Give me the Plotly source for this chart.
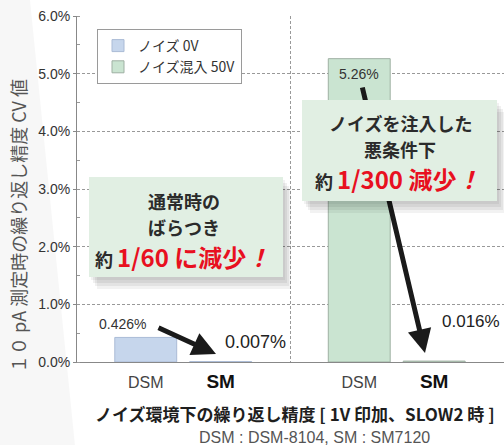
import plotly.graph_objects as go

# ---------------- data ----------------
groups = ["ノイズ 0V", "ノイズ混入 50V"]
models = ["DSM", "SM"]
cv_noise0 = [0.426, 0.007]      # %
cv_noise50 = [5.26, 0.016]      # %
label_noise0 = ["0.426%", "0.007%"]
label_noise50 = ["5.26%", "0.016%"]
y_ticks = [0, 1, 2, 3, 4, 5, 6]

# ---------------- layout constants ----------------
W, H = 504, 445
L, R, T, B = 77, 504, 16, 362          # plot area in pixels
XMAX, YMAX = 2.0, 6.0
OFFS = [0.322, 0.673]                  # bar centre offsets within a group
BW = 0.29

JP = "Noto Sans CJK JP"
LAT = "Liberation Sans, Arial, sans-serif"


def px2x(px):
    return (px - L) / (R - L) * XMAX


def py2y(py):
    return (B - py) / (B - T) * YMAX


def pxp(px):
    return (px - L) / (R - L)


def pyp(py):
    return (B - py) / (B - T)


x0 = [0 + o for o in OFFS]
x1 = [1 + o for o in OFFS]

fig = go.Figure()
fig.add_trace(go.Bar(
    x=x0, y=cv_noise0, width=BW, name=groups[0],
    marker=dict(color="#c6d6ec", line=dict(color="#aabbd6", width=1)),
    hoverinfo="skip"))
fig.add_trace(go.Bar(
    x=x1, y=cv_noise50, width=BW, name=groups[1],
    marker=dict(color="#cae4d1", line=dict(color="#9fb0a3", width=1)),
    hoverinfo="skip"))

ann = []

# value labels
ann.append(dict(x=x0[0], y=cv_noise0[0], xref="x", yref="y", text=label_noise0[0],
                showarrow=False, xshift=-23, yshift=3, yanchor="bottom",
                font=dict(family=LAT, size=14, color="#333")))
ann.append(dict(x=x0[1], y=cv_noise0[1], xref="x", yref="y", text=label_noise0[1],
                showarrow=False, xshift=35, yshift=20, yanchor="middle",
                font=dict(family=LAT, size=18, color="#222")))
ann.append(dict(x=x1[0], y=cv_noise50[0], xref="x", yref="y", text=label_noise50[0],
                showarrow=False, yshift=-5, yanchor="top",
                font=dict(family=LAT, size=14, color="#333")))
ann.append(dict(x=x1[1], y=cv_noise50[1], xref="x", yref="y", text=label_noise50[1],
                showarrow=False, xshift=37, yshift=40, yanchor="middle",
                font=dict(family=LAT, size=17, color="#222")))


# arrows (drawn first so boxes sit on top)
def arrow(tail, tip):
    return dict(x=px2x(tip[0]), y=py2y(tip[1]), xref="x", yref="y",
                ax=tail[0] - tip[0], ay=tail[1] - tip[1], axref="pixel", ayref="pixel",
                text="", showarrow=True, arrowhead=2, arrowsize=0.95,
                arrowwidth=5, arrowcolor="#1a1a1a", standoff=0, startstandoff=0)


ann.append(arrow((157, 327), (216, 354)))
ann.append(arrow((362, 86), (425, 353)))


# callout boxes with soft shadow
def box(x_left, y_top, w, h):
    out = []
    for dx, dy, a in [(2, 3, 0.05), (4, 6, 0.06), (6, 9, 0.06), (8, 12, 0.05)]:
        out.append(dict(x=pxp(x_left + dx), y=pyp(y_top + dy), xref="paper", yref="paper",
                        xanchor="left", yanchor="top", width=w, height=h, text=" ",
                        showarrow=False, bgcolor="rgba(0,0,0,%g)" % a, borderpad=0,
                        borderwidth=0))
    out.append(dict(x=pxp(x_left), y=pyp(y_top), xref="paper", yref="paper",
                    xanchor="left", yanchor="top", width=w, height=h, text=" ",
                    showarrow=False, bgcolor="#e1efe3", borderpad=0, borderwidth=0))
    return out


def line(cx, cy, text, size=18):
    return dict(x=pxp(cx), y=pyp(cy), xref="paper", yref="paper", text=text,
                showarrow=False, xanchor="center", yanchor="middle",
                font=dict(family=JP, size=size, color="#2b2b2b", weight="bold"))


RED = '<span style="color:#e8101f;font-size:24px">'
ann += box(89, 177, 194, 100)
ann.append(line(184, 201, "通常時の"))
ann.append(line(184, 227, "ばらつき"))
ann.append(line(182, 256, "約 " + RED + "1/60 に減少<i>！</i></span>"))

ann += box(302, 100, 195, 101)
ann.append(line(400, 123, "ノイズを注入した"))
ann.append(line(400, 149, "悪条件下"))
ann.append(line(397, 178, "約 " + RED + "1/300 減少<i>！</i></span>"))

# axis titles
ann.append(dict(x=pxp(18), y=pyp(226), xref="paper", yref="paper", textangle=-90,
                text="１０ pA 測定時の繰り返し精度 CV 値", showarrow=False,
                xanchor="center", yanchor="middle",
                font=dict(family=JP, size=18, color="#555")))
ann.append(dict(x=pxp(295), y=pyp(413), xref="paper", yref="paper",
                text="ノイズ環境下の繰り返し精度 [ 1V 印加、SLOW2 時 ]", showarrow=False,
                xanchor="center", yanchor="middle",
                font=dict(family=JP, size=17, color="#1e1e1e", weight="bold")))
ann.append(dict(x=pxp(314), y=pyp(437), xref="paper", yref="paper",
                text="DSM : DSM-8104, SM : SM7120", showarrow=False,
                xanchor="center", yanchor="middle",
                font=dict(family=LAT, size=16, color="#555")))

tick_text = []
for g in range(len(groups)):
    for m in models:
        if m == "SM":
            tick_text.append('<b><span style="font-size:19px;color:#111">%s</span></b>' % m)
        else:
            tick_text.append(m)

fig.update_layout(
    width=W, height=H,
    margin=dict(l=L, r=W - R, t=T, b=H - B, pad=0),
    paper_bgcolor="white", plot_bgcolor="rgba(0,0,0,0)",
    barmode="overlay", showlegend=True,
    legend=dict(x=pxp(97), y=pyp(29), xanchor="left", yanchor="top",
                bgcolor="white", bordercolor="#9a9a9a", borderwidth=1,
                font=dict(family=JP, size=14, color="#333"),
                tracegroupgap=2, entrywidth=120, entrywidthmode="pixels"),
    xaxis=dict(range=[0, XMAX], tickvals=x0 + x1, ticktext=tick_text,
               showgrid=False, zeroline=False, showline=True, linecolor="#888",
               linewidth=1, ticks="", ticklabelstandoff=6,
               tickfont=dict(family=LAT, size=16, color="#444"),
               minor=dict(tickvals=[1, 2], showgrid=True, gridcolor="#999",
                          griddash="3px,2px", gridwidth=1, ticks="")),
    yaxis=dict(range=[0, YMAX], tickvals=y_ticks,
               ticktext=["%.1f%%" % v for v in y_ticks],
               showgrid=True, gridcolor="#999", griddash="3px,2px", gridwidth=1,
               zeroline=False, showline=True, linecolor="#888", linewidth=1,
               ticks="outside", ticklen=3, tickcolor="#888",
               tickfont=dict(family=LAT, size=14, color="#333"),
               minor=dict(dtick=0.5, ticks="inside", ticklen=3, tickcolor="#999")),
    annotations=ann,
    shapes=[dict(type="path", xref="paper", yref="paper", layer="below",
                 path="M %f,%f L %f,%f L %f,%f L %f,%f Z" % (
                     pxp(0), pyp(0), pxp(30), pyp(0), pxp(75), pyp(445), pxp(0), pyp(445)),
                 fillcolor="rgba(0,0,0,0.03)", line=dict(width=0))],
)

fig.write_html("out.html", config={"displayModeBar": False},
               post_script="document.body.style.margin='0px';"
                           "document.body.style.overflow='hidden';")
